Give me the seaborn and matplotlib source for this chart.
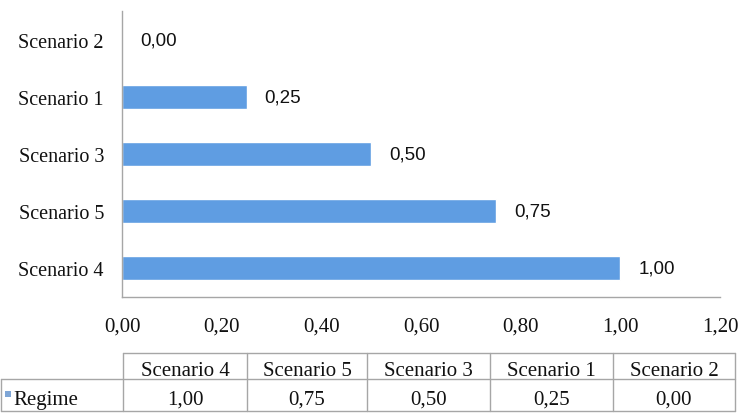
import matplotlib
matplotlib.use("Agg")
import matplotlib.pyplot as plt
import seaborn as sns
import pandas as pd
from matplotlib.lines import Line2D
from matplotlib.patches import Rectangle

# ---- data ----
categories = ["Scenario 4", "Scenario 5", "Scenario 3", "Scenario 1", "Scenario 2"]
values = [1.00, 0.75, 0.50, 0.25, 0.00]
series_name = "Regime"
xticks = [0.0, 0.2, 0.4, 0.6, 0.8, 1.0, 1.2]


def fmt(v):
    return f"{v:.2f}".replace(".", ",")


bar_color = "#5f9de2"
grid_color = "#a6a6a6"
text_color = "#111111"

sns.set_theme(style="white")
plt.rcParams["font.family"] = ["Liberation Serif", "DejaVu Serif"]

W, H = 738, 414
fig = plt.figure(figsize=(W / 100, H / 100), dpi=100)


def px(x, y):
    return x / W, 1 - y / H


ax = fig.add_axes([122 / W, 1 - 298 / H, (720 - 122) / W, (298 - 12) / H])
df = pd.DataFrame({"scenario": categories, "value": values})
order = categories[::-1]
sns.barplot(data=df, x="value", y="scenario", order=order, color=bar_color,
            saturation=1, width=0.42, ax=ax, errorbar=None)
ax.set_xlim(0, 1.2)
ax.set_ylim(4.5, -0.5)
ax.set_xticks(xticks)
ax.set_xticklabels([fmt(t) for t in xticks])
ax.set_xlabel("")
ax.set_ylabel("")
for s in ["top", "right"]:
    ax.spines[s].set_visible(False)
for s in ["left", "bottom"]:
    ax.spines[s].set_color(grid_color)
    ax.spines[s].set_linewidth(1.0)
ax.tick_params(axis="x", length=0, pad=14, labelsize=15, colors=text_color)
ax.tick_params(axis="y", length=0, pad=13, labelsize=14.5, colors=text_color)

for cont in ax.containers:
    ax.bar_label(cont, labels=[fmt(v) for v in cont.datavalues], padding=13,
                 fontsize=13.5, family=["Liberation Sans", "DejaVu Sans"], color=text_color)

# ---- data table below the chart ----
col_edges = [123, 247, 367, 490, 613, 735]
y_top, y_mid, y_bot = 354, 380, 412

def hline(x0, x1, y):
    fig.add_artist(Line2D([x0 / W, x1 / W], [1 - y / H, 1 - y / H],
                          transform=fig.transFigure, color=grid_color, lw=1.0))

def vline(x, y0, y1):
    fig.add_artist(Line2D([x / W, x / W], [1 - y0 / H, 1 - y1 / H],
                          transform=fig.transFigure, color=grid_color, lw=1.0))

hline(col_edges[0], col_edges[-1], y_top)
hline(1, col_edges[-1], y_mid)
hline(1, col_edges[-1], y_bot)
for x in col_edges:
    vline(x, y_top, y_bot)
vline(1, y_mid, y_bot)

for i, (cat, val) in enumerate(zip(categories, values)):
    cx = (col_edges[i] + col_edges[i + 1]) / 2
    fig.text(*px(cx, 376), cat, ha="center", va="baseline",
             fontsize=15, color=text_color)
    fig.text(*px(cx, 405), fmt(val), ha="center", va="baseline",
             fontsize=15, color=text_color)

fig.add_artist(Rectangle(px(5, 398), 6 / W, 6 / H, transform=fig.transFigure,
                         facecolor="#7fa6d6", edgecolor="none"))
fig.text(*px(13, 405), series_name, ha="left", va="baseline",
         fontsize=15, color=text_color)

fig.savefig("out.png", dpi=100)
